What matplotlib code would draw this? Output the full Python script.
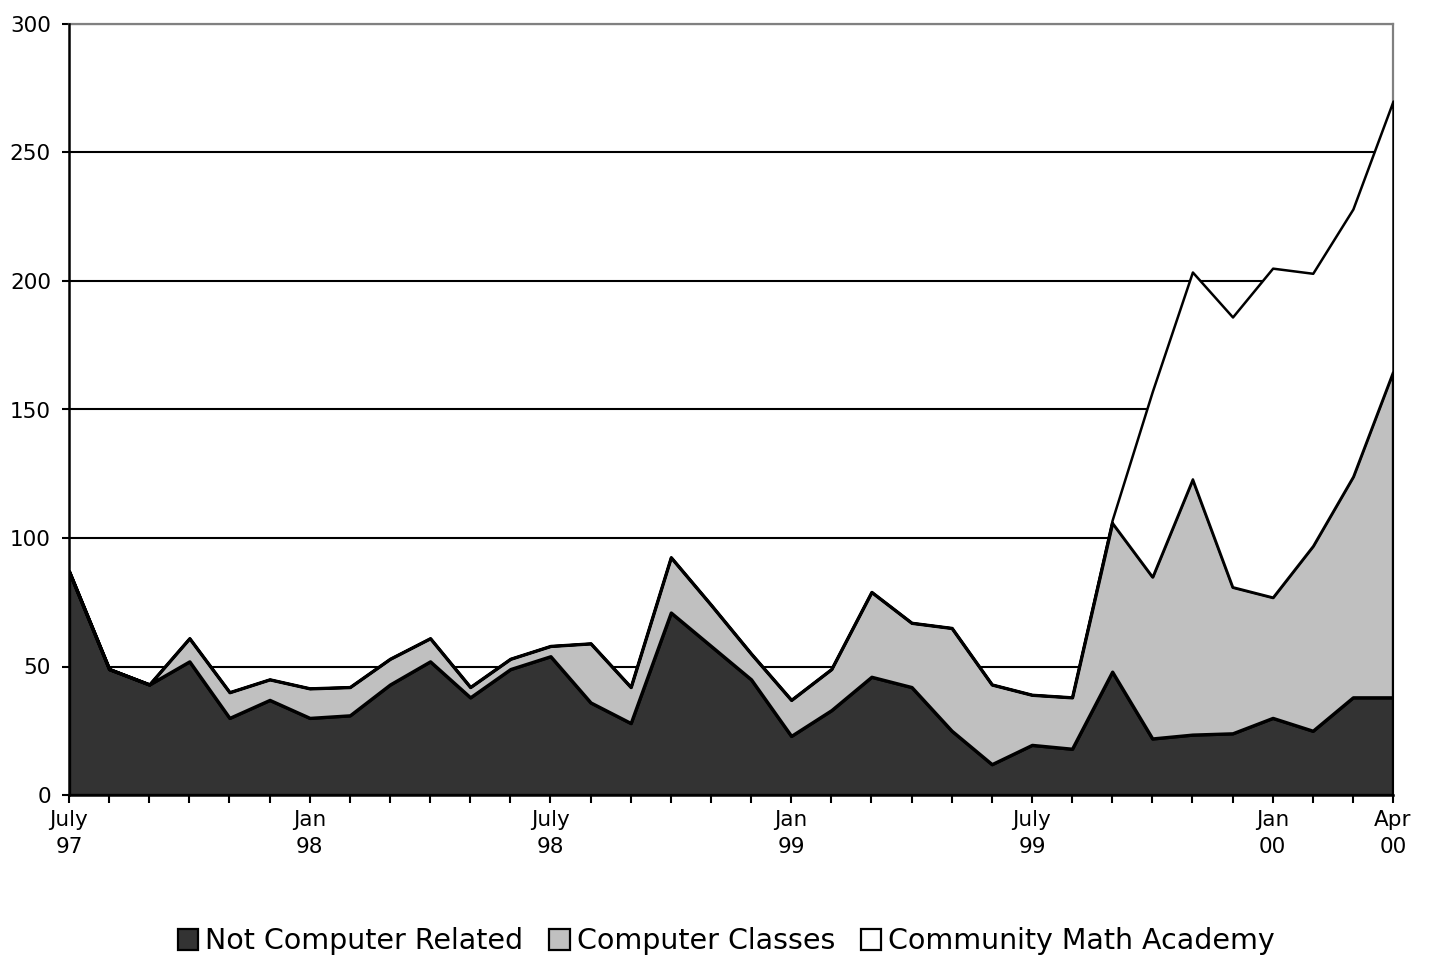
import numpy as np
import matplotlib
matplotlib.use('Agg')
import matplotlib.pyplot as plt
from matplotlib.patches import Patch

# monthly values, July 97 .. April 00
not_computer = [87, 49, 43, 52, 30, 37, 30, 31, 43, 52, 38, 49, 54, 36, 28, 71, 58, 45,
                23, 33, 46, 42, 25, 12, 19.5, 18, 48, 22, 23.5, 24, 30, 25, 38, 38]
computer_classes = [0, 0, 0, 9, 10, 8, 11.5, 11, 10, 9, 4, 4, 4, 23, 14, 21.5, 16, 10,
                    14, 16, 33, 25, 40, 31, 19.5, 20, 58, 63, 99.5, 57, 47, 72, 86, 127]
math_academy = [0, 0, 0, 0, 0, 0, 0, 0, 0, 0, 0, 0, 0, 0, 0, 0, 0, 0,
                0, 0, 0, 0, 0, 0, 0, 0, 1, 72, 80.5, 105, 128, 106, 104, 105]

tick_labels = {0: 'July\n97', 6: 'Jan\n98', 12: 'July\n98', 18: 'Jan\n99',
               24: 'July\n99', 30: 'Jan\n00', 33: 'Apr\n00'}
series_names = ['Not Computer Related', 'Computer Classes', 'Community Math Academy']
colors = ['#333333', '#c0c0c0', '#ffffff']

plt.rcParams['font.family'] = ['DejaVu Sans']

fig = plt.figure(figsize=(14.33, 9.58), dpi=100)
ax = fig.add_axes([69/1433, 1-795/958, (1393-69)/1433, (795-24)/958])

x = np.arange(len(not_computer))
polys = ax.stackplot(x, not_computer, computer_classes, math_academy,
                     colors=colors, edgecolor='black', linewidth=2.4, zorder=3)
polys[2].set_linewidth(1.8)

ax.set_xlim(0, len(x) - 1)
ax.set_ylim(0, 300)
ax.set_yticks(range(0, 301, 50))
ax.yaxis.grid(True, color='black', linewidth=1.5, zorder=1)
ax.set_axisbelow(True)

ax.set_xticks(x)
ax.set_xticklabels([tick_labels.get(i, '') for i in x], fontsize=15.5, linespacing=1.4)
ax.tick_params(axis='x', direction='out', length=6, width=1.5, pad=5)
ax.tick_params(axis='y', direction='out', length=5, width=1.5, pad=8, labelsize=15.5)
for lab in ax.get_xticklabels():
    lab.set_horizontalalignment('center')

for s in ['left', 'bottom']:
    ax.spines[s].set_color('black')
    ax.spines[s].set_linewidth(1.8)
    ax.spines[s].set_zorder(4)
for s in ['top', 'right']:
    ax.spines[s].set_color('#808080')
    ax.spines[s].set_linewidth(1.6)
    ax.spines[s].set_zorder(2)

handles = [Patch(facecolor=c, edgecolor='black', linewidth=1.6) for c in colors]
fig.legend(handles, series_names, loc='lower center', bbox_to_anchor=(0.507, -0.024),
           ncol=3, frameon=False, fontsize=20.5, handlelength=0.72, handleheight=0.72,
           handletextpad=0.25, columnspacing=0.9)

fig.savefig('out.png', dpi=100)
